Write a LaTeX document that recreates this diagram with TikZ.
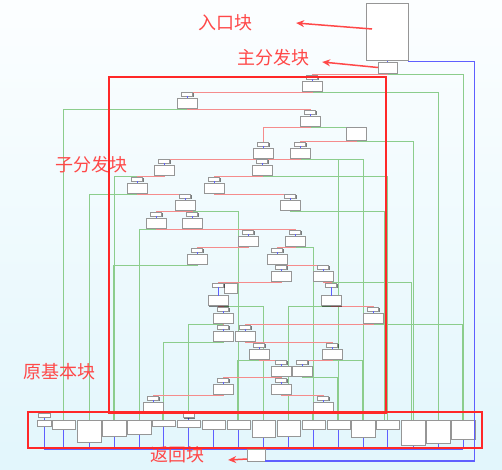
\documentclass[tikz,border=0pt]{standalone}
\usepackage{fontspec}
\newfontfamily\cjkf{Noto Sans CJK SC}
\usetikzlibrary{shadows,arrows.meta,calc}
\pgfdeclarelayer{bgl}
\pgfsetlayers{bgl,main}
\definecolor{bgtop}{RGB}{252,254,255}
\definecolor{bgbot}{RGB}{226,246,252}
\definecolor{gline}{RGB}{140,205,140}
\definecolor{rline}{RGB}{245,140,140}
\definecolor{bline}{RGB}{95,95,255}
\definecolor{frm}{RGB}{255,40,40}
\definecolor{lbl}{RGB}{255,72,72}
\definecolor{bord}{RGB}{150,150,150}
\tikzset{
 base/.style={draw=bord, fill=white, line width=0.5pt, inner sep=0pt, outer sep=0pt,
   drop shadow={shadow xshift=1.2pt, shadow yshift=-1.2pt, fill=black, opacity=0.5}},
 hdr/.style={base, minimum width=11pt, minimum height=4pt},
 bx/.style={base, minimum width=20pt, minimum height=10pt},
 grn/.style={draw=gline, line width=0.75pt},
 rln/.style={draw=rline, line width=0.75pt},
 blu/.style={draw=bline, line width=0.8pt},
 longblu/.style={draw=bline, line width=1.2pt},
 frame/.style={draw=frm, line width=2.8pt},
 lab/.style={text=lbl, font=\cjkf\fontsize{18}{20}\selectfont, inner sep=0pt},
 larr/.style={draw=lbl, line width=1.5pt, -{Stealth[length=8pt,width=7pt]}},
}
\newcommand\blk[3]{%
 \node[bx] (#1) at (#2,{#3+11}) {};
 \node[hdr] (#1h) at (#2,{#3+2}) {};
 \draw[blu] (#1h.south) -- (#1.north);}
\newcommand\blkl[3]{%
 \node[bx] (#1) at (#2,{#3+17.5}) {};
 \node[hdr] (#1h) at (#2,{#3+2}) {};
 \draw[blu] (#1h.south) -- (#1.north);}
\newcommand\rdg[2]{\draw[rln] (#1.south) -- ++(0,1) -| (#2h.north);}
\newcommand\gdg[2]{\draw[grn] (#1.south) -- ++(0,1) -| (#2);}
\begin{document}
\begin{tikzpicture}[x=1pt,y=-1pt]
\useasboundingbox (0,0) rectangle (502,469);
\begin{pgfonlayer}{bgl}
\shade[top color=bgtop, bottom color=bgbot] (0,0) rectangle (502,469);
\end{pgfonlayer}
% entry, main dispatcher, return
\node[base, minimum width=42pt, minimum height=57pt, anchor=north west] (entry) at (366,3) {};
\node[base, minimum width=19pt, minimum height=11pt, anchor=north west] (main) at (378,62) {};
\node[base, minimum width=18pt, minimum height=12pt, anchor=north west] (ret) at (247,449) {};
\node[base, minimum width=20pt, minimum height=13pt, anchor=north west] (D) at (346,127) {};
\node[base, minimum width=13pt, minimum height=10pt, anchor=north west] (Ux) at (224,283) {};
\coordinate (cr) at (474.5,61.5);
\coordinate (cb) at (474.5,461);
% inner blocks
\blk{A}{312}{75}
\blk{B}{187}{92}
\blk{C}{310}{110}
\blk{E}{263}{142}
\blk{F}{300}{142}
\blk{G}{164}{159}
\blk{H}{262}{159}
\blk{I}{137}{177}
\blk{J}{214}{177}
\blk{K}{185}{194}
\blk{L}{290}{194}
\blk{M}{156}{212}
\blk{N}{192}{212}
\blk{O}{248}{230}
\blk{P}{295}{230}
\blk{Q}{197}{248}
\blk{R}{277}{248}
\blk{S}{281}{265}
\blk{T}{323}{265}
\blkl{U}{218}{283}
\blkl{V}{331}{283}
\blk{W}{373}{307}
\blk{X}{223}{307}
\blk{Y}{223}{325}
\blk{Z}{245}{325}
\blk{AA}{259}{343}
\blk{AB}{332}{343}
\blk{BA}{281}{360}
\blk{BB}{302}{360}
\blk{CA}{223}{378}
\blk{CB}{281}{378}
\blk{DA}{153}{396}
\blk{DB}{323}{396}
% bottom row
\foreach \i/\x/\w/\h in {1/37/14/6,2/52/23/9,3/77/24/22,4/102/24/16,5/127/24/14,6/152/23/6,
  7/177/23/7,8/202/23/9,9/227/23/9,10/252/23/17,11/277/23/16,12/302/23/9,13/327/23/9,
  14/351/24/17,15/376/23/9,16/401/24/25,17/426/24/23,18/451/24/19}
  {\node[base, minimum width=\w pt, minimum height=\h pt, anchor=north west] (b\i) at (\x,420) {};}
\node[hdr, minimum width=12pt] (b1h) at (44,415) {};
\node[hdr] (b7h) at (188.5,415.5) {};
% labels
\node[lab] (l1) at (225,23) {入口块};
\node[lab] (l2) at (273,58) {主分发块};
\node[lab] (l3) at (91,165) {子分发块};
\node[lab] (l4) at (59,372) {原基本块};
\node[lab] (l5) at (177,455) {返回块};
\begin{pgfonlayer}{bgl}
% green edges
\gdg{main}{b18.north}
\gdg{A}{b17.north}
\gdg{B}{b2.north}
\gdg{C}{D.north}
\gdg{D}{b16.north}
\gdg{E}{b13.north}
\gdg{F}{b14.north}
\gdg{G}{b4.north}
\gdg{H}{b15.north}
\gdg{I}{b3.north}
\gdg{K}{b9.north}
\gdg{L}{[xshift=-3pt]b15.north}
\gdg{M}{b5.north}
\gdg{P}{b12.north}
\gdg{Q}{[xshift=-1pt]b4.north}
\gdg{T}{[xshift=-2pt]b16.north}
\gdg{U}{b10.north}
\gdg{V}{b11.north}
\gdg{X}{b7h.north}
\gdg{W}{[xshift=-1pt]b18.north}
\gdg{Y}{b6.north}
\gdg{AA}{[xshift=-1pt]b9.north}
\gdg{AB}{[xshift=-1pt]b14.north}
\gdg{BB}{[xshift=-1pt]b13.north}
\gdg{DA}{[xshift=-1pt]b6.north}
\gdg{DB}{[xshift=-1pt]b12.north}
% red edges
\draw[rln] (main.south) -- ++(0,1) -| (Ah.north);
\rdg{A}{B}
\rdg{B}{C}
\rdg{C}{E}
\rdg{D}{F}
\rdg{E}{G}
\rdg{F}{H}
\rdg{G}{I}
\rdg{H}{J}
\rdg{I}{K}
\rdg{J}{L}
\rdg{K}{M}
\rdg{K}{N}
\rdg{M}{O}
\rdg{N}{P}
\rdg{O}{Q}
\rdg{P}{R}
\rdg{R}{S}
\rdg{R}{T}
\rdg{S}{U}
\rdg{T}{V}
\rdg{U}{X}
\rdg{V}{W}
\rdg{X}{Y}
\rdg{W}{Z}
\rdg{Z}{AA}
\rdg{Z}{AB}
\rdg{AA}{BA}
\rdg{AB}{BB}
\rdg{BA}{CA}
\rdg{BA}{CB}
\rdg{CA}{DA}
\rdg{CB}{DB}
% blue edges
\draw[blu] (b1h.south) -- (b1.north);
\draw[blu] (b7h.south) -- (b7.north);
\foreach \i in {1,...,18} {\draw[blu] (b\i.south) -- (b\i.south |- ret.north);}
\draw[blu] (b1.south |- ret.north) -- (b18.south |- ret.north);
\draw[blu] (main.north |- entry.south) -- (main.north);
\end{pgfonlayer}
% long blue edge from return block to main dispatcher
\draw[longblu] (ret.south east) -- (cb);
\fill[fill=bline] ([xshift=-0.6pt]cb) rectangle ([xshift=0.6pt,yshift=-0.6pt]cr);
\fill[fill=bline] ([yshift=0.6pt]cr) rectangle ([yshift=-0.6pt]cr -| entry.south east);
% frames
\draw[frame] (109,77) rectangle (386,413);
\draw[frame] (28,412) rectangle (482,448);
% label arrows
\draw[larr] (entry.west) ++(6,-2.5) -- ($(l1.east)+(44,0)$);
\draw[larr] (main.west) -- ($(l2.east)+(13,4)$);
\draw[larr] ([yshift=-4pt]ret.west) -- ($(l5.east)+(24,5)$);
\end{tikzpicture}
\end{document}
